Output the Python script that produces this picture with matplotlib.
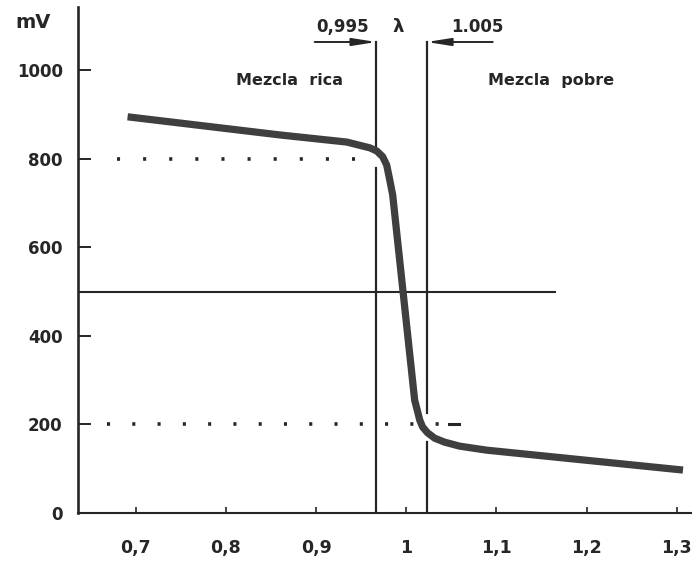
import matplotlib
matplotlib.use("Agg")
import matplotlib.pyplot as plt

plt.rcParams["font.family"] = ["DejaVu Sans"]
plt.rcParams["lines.scale_dashes"] = False

# Sensor output voltage (mV) versus air ratio lambda
lam = [0.691, 0.860, 0.934, 0.9595, 0.9672, 0.9739, 0.9784, 0.9817, 0.985,
       1.0094, 1.0128, 1.015, 1.0183, 1.0238, 1.0316, 1.0427, 1.0593,
       1.089, 1.307]
mv = [895, 854, 838, 825, 818, 805, 786, 753, 719,
      255, 228, 210, 194, 181, 169, 160, 151, 142, 97]

# Tick values and labels
x_ticks = [0.7, 0.8, 0.9, 1.0, 1.1, 1.2, 1.3]
x_labels = ["0,7", "0,8", "0,9", "1", "1,1", "1,2", "1,3"]
y_ticks = [0, 200, 400, 600, 800, 1000]
y_labels = ["0", "200", "400", "600", "800", "1000"]

# Window boundaries and reference levels
lam_rich = 0.967
lam_lean = 1.0227
level_mid = 500
level_high = 800
level_low = 200

ink = "#262626"
curve_col = "#3f3f3f"

fig = plt.figure(figsize=(6.92, 5.62), dpi=100)
ax = fig.add_axes([0.1127, 0.0872, 0.8873, 0.9003])
ax.set_xlim(0.636, 1.317)
ax.set_ylim(0, 1143)

for s in ("top", "right"):
    ax.spines[s].set_visible(False)
ax.spines["left"].set_linewidth(1.9)
ax.spines["bottom"].set_linewidth(1.5)
ax.spines["left"].set_color(ink)
ax.spines["bottom"].set_color(ink)

ax.set_xticks(x_ticks)
ax.set_xticklabels(x_labels)
ax.set_yticks(y_ticks)
ax.set_yticklabels(y_labels)
ax.tick_params(axis="y", direction="in", length=9, width=1.4, pad=11,
               labelsize=12, colors=ink)
ax.tick_params(axis="x", direction="in", length=4.5, width=1.2, pad=19,
               labelsize=12.5, colors=ink)
for t in ax.get_xticklabels() + ax.get_yticklabels():
    t.set_fontweight("bold")

# Dotted guide levels
ax.plot([0.679, 0.964], [level_high, level_high], color=ink, lw=2.6,
        dashes=(2.2, 16.6), solid_capstyle="butt")
ax.plot([0.668, 1.040], [level_low, level_low], color=ink, lw=2.6,
        dashes=(2.2, 16.0))
ax.plot([1.048, 1.059], [level_low, level_low], color=ink, lw=2.2)

# Mid level line
ax.plot([0.636, 1.165], [level_mid, level_mid], color=ink, lw=1.5)

# Window boundaries
top = 1064
ax.plot([lam_rich, lam_rich], [top, 827], color=ink, lw=1.6)
ax.plot([lam_rich, lam_rich], [780, 0], color=ink, lw=1.6)
ax.plot([lam_lean, lam_lean], [top, 226], color=ink, lw=1.6)
ax.plot([lam_lean, lam_lean], [160, 0], color=ink, lw=1.6)

# Arrows marking the window
arrow = dict(arrowstyle="-|>,head_length=0.95,head_width=0.15",
             color=ink, lw=1.4, shrinkA=0, shrinkB=0, mutation_scale=15)
ax.annotate("", xy=(lam_rich, top), xytext=(0.8985, top), arrowprops=arrow)
ax.annotate("", xy=(lam_lean, top), xytext=(1.096, top), arrowprops=arrow)

# Sensor curve
ax.plot(lam, mv, color=curve_col, lw=5.2, solid_joinstyle="round",
        solid_capstyle="butt", zorder=5)

# Labels
txt = dict(color=ink, fontweight="bold", ha="center", va="center",
           clip_on=False)
ax.text(0.586, 1107, "mV", fontsize=14, **txt)
ax.text(0.9296, 1098, "0,995", fontsize=12, **txt)
ax.text(0.9906, 1098, "λ", fontsize=13, **txt)
ax.text(1.079, 1098, "1.005", fontsize=12, **txt)
ax.text(0.871, 978, "Mezcla  rica", fontsize=11.5, **txt)
ax.text(1.161, 978, "Mezcla  pobre", fontsize=11.5, **txt)

fig.savefig("out.png", dpi=100, facecolor="white")
